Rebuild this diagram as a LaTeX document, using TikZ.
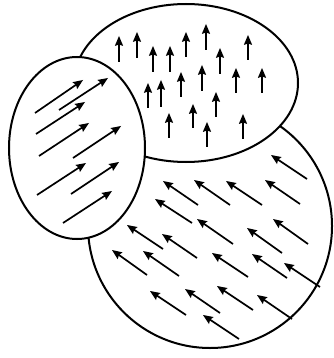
\documentclass[tikz,border=0pt]{standalone}
\newcommand\vecarr[4]{%
  \pgfmathsetmacro\vL{veclen((#3)-(#1),(#4)-(#2))}%
  \pgfmathsetmacro\vux{((#3)-(#1))/\vL}%
  \pgfmathsetmacro\vuy{((#4)-(#2))/\vL}%
  \draw[vec] (#1,#2) -- ({#3-7*(\vux)},{#4-7*(\vuy)});%
  \fill[black] (#3,#4) -- ({#3-10*(\vux)-4.2*(\vuy)},{#4-10*(\vuy)+4.2*(\vux)})
     -- ({#3-8.5*(\vux)},{#4-8.5*(\vuy)})
     -- ({#3-10*(\vux)+4.2*(\vuy)},{#4-10*(\vuy)-4.2*(\vux)}) -- cycle;}
\begin{document}
\begin{tikzpicture}[x=1pt,y=-1pt,
  outline/.style={line width=2pt,fill=white},
  vec/.style={line width=1.7pt}]
\useasboundingbox (0,0) rectangle (333,358);
% big circle (lower right)
\draw[outline] (210,226) circle[radius=122];
\foreach \ax/\ay/\bx/\by in {307/179/271/155, 198/205/163/181, 230/205/194/180, 262/205/226/181, 300/204/265/180,
  192/223/155/199, 233/244/197/219, 308/244/273/219, 163/249/127/225, 197/258/162/234, 282/253/247/228,
  147/275/112/250, 179/276/143/251, 248/277/212/253, 287/278/252/254, 320/287/284/263,
  186/315/150/291, 220/313/185/289, 253/310/217/286, 292/319/257/295, 239/339/203/315}
  {\vecarr{\ax}{\ay}{\bx}{\by}}
% top ellipse
\draw[outline] (186,83) ellipse[x radius=112,y radius=79];
\foreach \x/\t/\b in {119/36/62, 137/32/58, 153/46/72, 170/46/72, 186/32/57, 206/24/50, 248/35/60,
  220/48/74, 202/65/91, 181/72/97, 161/80/107, 148/83/108, 236/68/93, 262/68/93, 216/92/117,
  193/104/128, 169/113/138, 207/122/147, 243/114/139}
  {\vecarr{\x}{\b}{\x}{\t}}
% left ellipse
\draw[outline] (77,148) ellipse[x radius=68,y radius=91];
\foreach \ax/\ay/\bx/\by in {35/113/83/80, 59/110/108/78, 36/134/85/102, 39/156/89/123, 73/158/121/126,
  37/195/86/163, 71/194/119/162, 63/223/112/191}
  {\vecarr{\ax}{\ay}{\bx}{\by}}
\end{tikzpicture}
\end{document}
